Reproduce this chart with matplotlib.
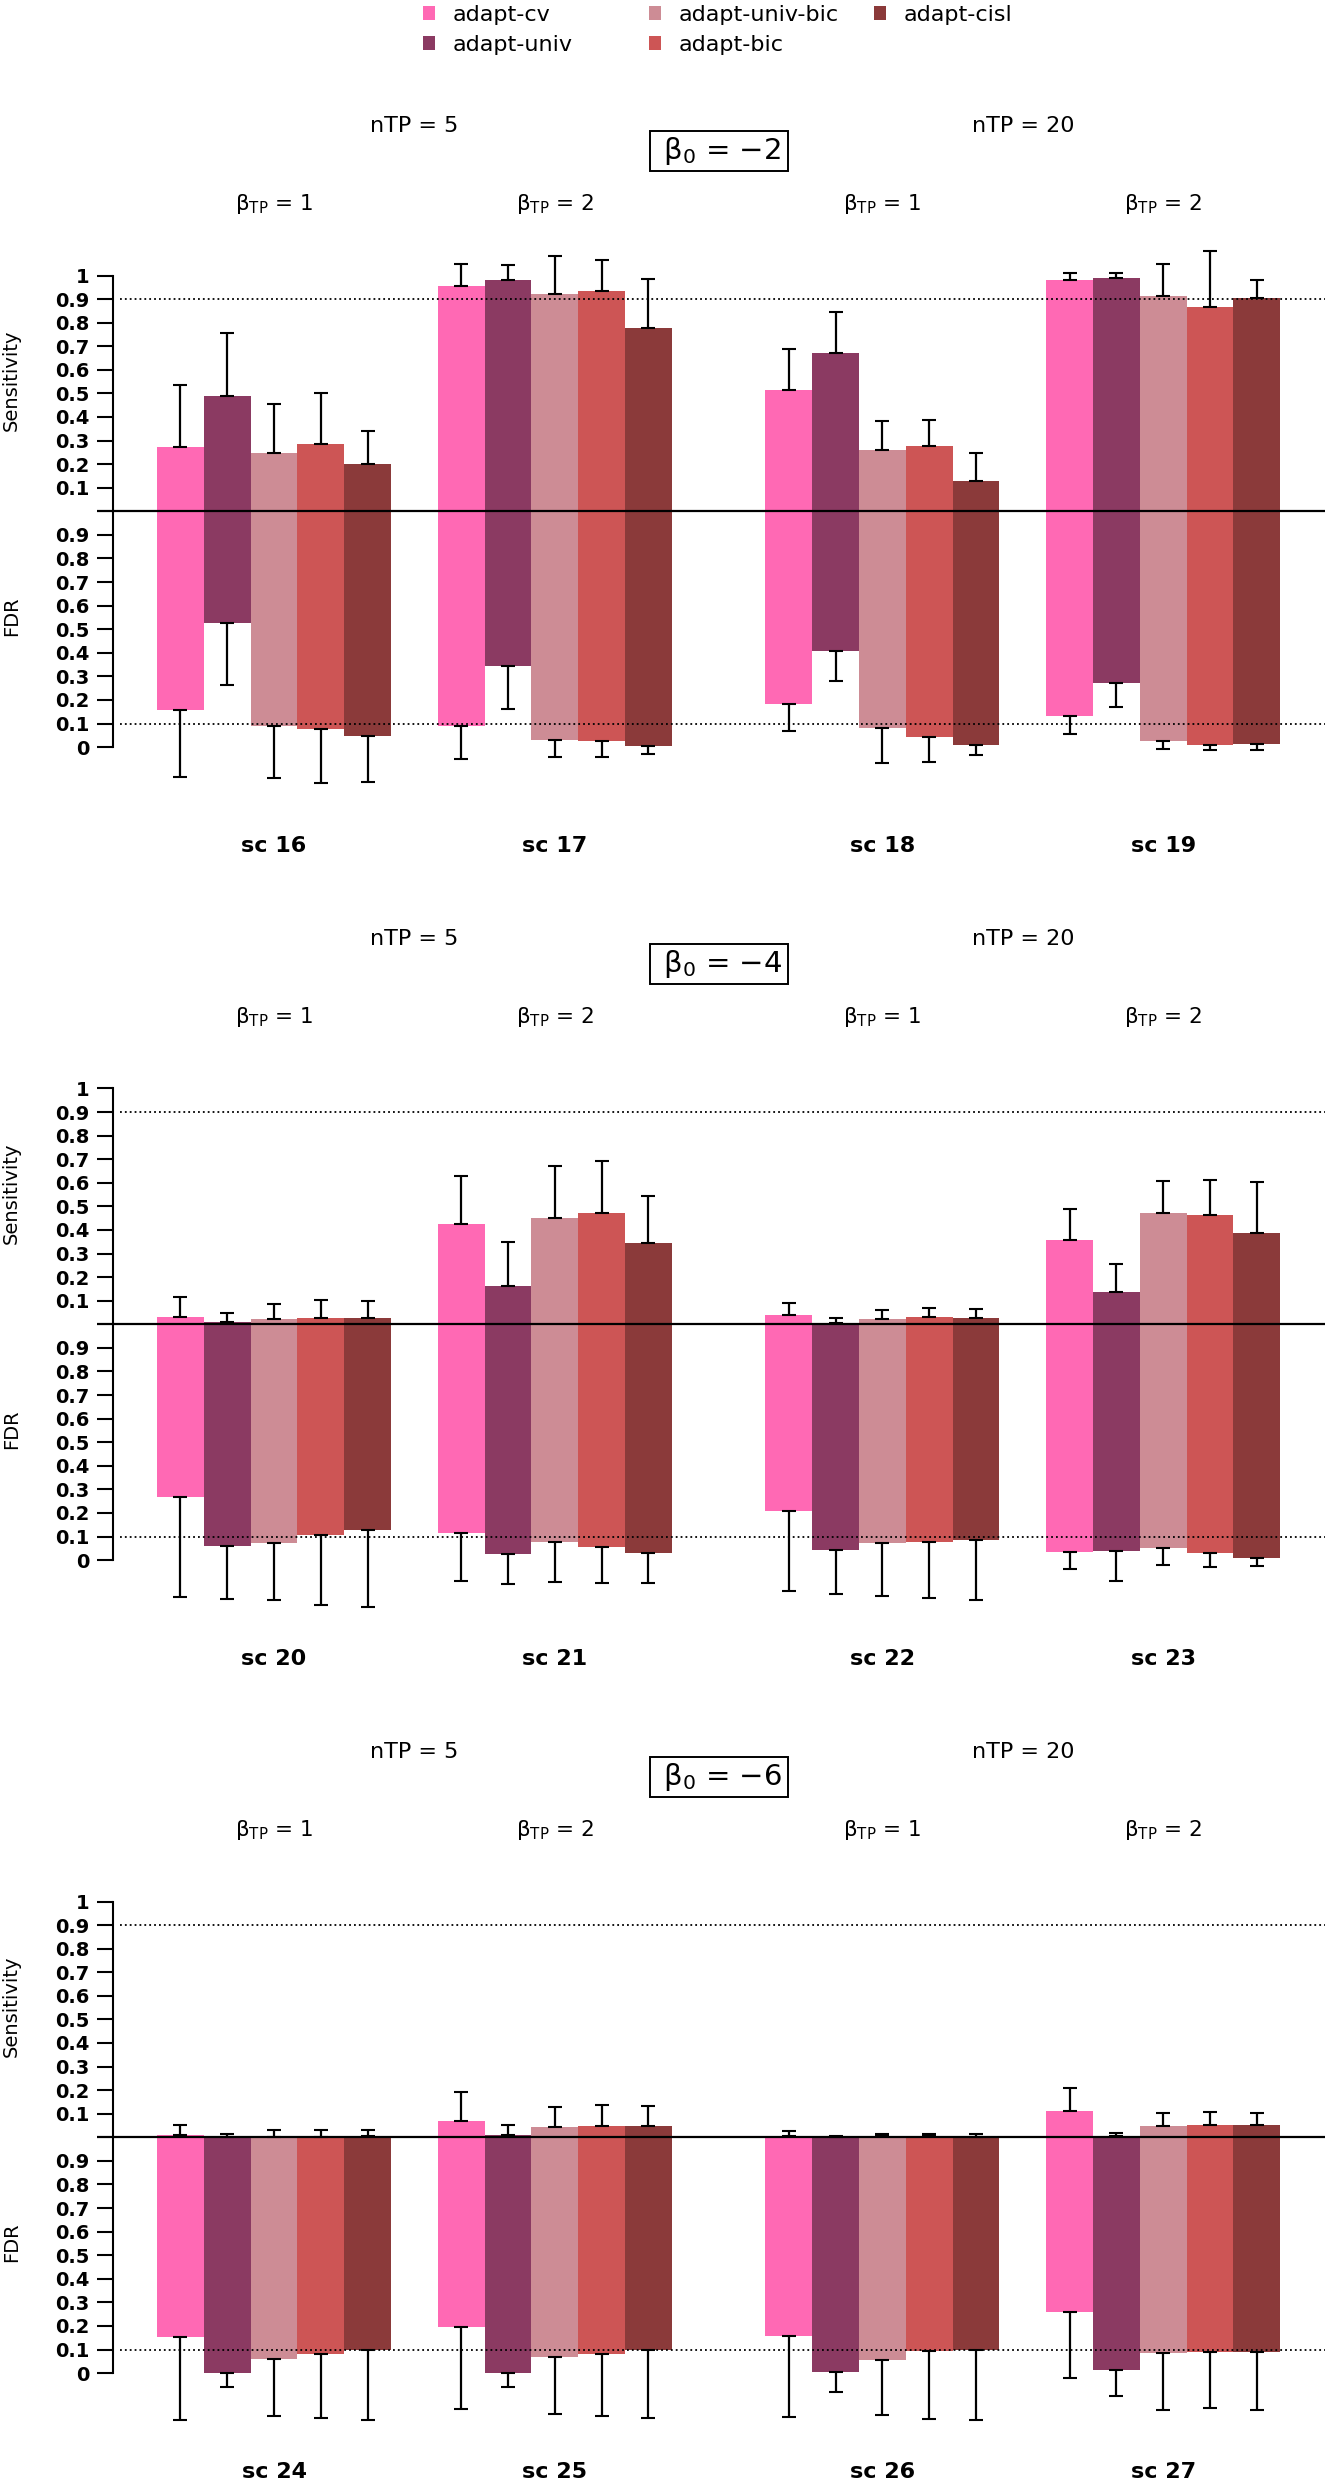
import matplotlib
matplotlib.use("Agg")
import matplotlib.pyplot as plt
from matplotlib.patches import Patch

plt.rcParams["font.family"] = ["DejaVu Sans"]
plt.rcParams["mathtext.default"] = "regular"

# ---------------- data ----------------
methods = ["adapt-cv", "adapt-univ", "adapt-univ-bic", "adapt-bic", "adapt-cisl"]
colors = ["#FF69B4", "#8B3A62", "#CD8C95", "#CD5555", "#8B3A3A"]

beta0_labels = [r"$\beta_0$ = −2", r"$\beta_0$ = −4", r"$\beta_0$ = −6"]
ntp_labels = ["nTP = 5", "nTP = 20"]
btp_labels = [r"$\beta_{TP}$ = 1", r"$\beta_{TP}$ = 2", r"$\beta_{TP}$ = 1", r"$\beta_{TP}$ = 2"]
scenario_labels = [["sc 16", "sc 17", "sc 18", "sc 19"],
                   ["sc 20", "sc 21", "sc 22", "sc 23"],
                   ["sc 24", "sc 25", "sc 26", "sc 27"]]

# beta0 = -2 (sc 16-19): rows = scenarios, cols = methods
sens_b0m2 = [[0.274, 0.490, 0.248, 0.285, 0.201],
             [0.954, 0.983, 0.920, 0.933, 0.777],
             [0.513, 0.673, 0.260, 0.279, 0.130],
             [0.981, 0.991, 0.912, 0.868, 0.903]]
sens_sd_b0m2 = [[0.260, 0.266, 0.208, 0.215, 0.141],
                [0.094, 0.060, 0.163, 0.132, 0.208],
                [0.176, 0.172, 0.121, 0.110, 0.118],
                [0.030, 0.018, 0.138, 0.237, 0.078]]
fdr_b0m2 = [[0.156, 0.527, 0.088, 0.076, 0.047],
            [0.088, 0.346, 0.031, 0.026, 0.005],
            [0.183, 0.407, 0.079, 0.042, 0.008],
            [0.130, 0.271, 0.026, 0.011, 0.015]]
fdr_sd_b0m2 = [[0.281, 0.263, 0.219, 0.227, 0.193],
               [0.138, 0.184, 0.075, 0.070, 0.034],
               [0.115, 0.128, 0.147, 0.105, 0.042],
               [0.076, 0.099, 0.036, 0.022, 0.028]]

# beta0 = -4 (sc 20-23)
sens_b0m4 = [[0.032, 0.009, 0.021, 0.027, 0.027],
             [0.424, 0.161, 0.451, 0.473, 0.343],
             [0.038, 0.006, 0.021, 0.030, 0.028],
             [0.358, 0.136, 0.470, 0.462, 0.386]]
sens_sd_b0m4 = [[0.082, 0.040, 0.064, 0.075, 0.073],
                [0.207, 0.186, 0.221, 0.220, 0.199],
                [0.053, 0.019, 0.038, 0.040, 0.036],
                [0.129, 0.120, 0.136, 0.148, 0.216]]
fdr_b0m4 = [[0.267, 0.059, 0.074, 0.106, 0.129],
            [0.113, 0.025, 0.075, 0.054, 0.028],
            [0.207, 0.044, 0.071, 0.076, 0.084],
            [0.033, 0.037, 0.051, 0.028, 0.009]]
fdr_sd_b0m4 = [[0.425, 0.226, 0.244, 0.298, 0.330],
               [0.202, 0.125, 0.168, 0.150, 0.125],
               [0.338, 0.187, 0.225, 0.236, 0.254],
               [0.070, 0.126, 0.072, 0.056, 0.032]]

# beta0 = -6 (sc 24-27)
sens_b0m6 = [[0.008, 0.001, 0.002, 0.002, 0.004],
             [0.068, 0.008, 0.042, 0.046, 0.046],
             [0.006, 0.002, 0.004, 0.004, 0.002],
             [0.110, 0.004, 0.049, 0.053, 0.051]]
sens_sd_b0m6 = [[0.043, 0.014, 0.028, 0.028, 0.028],
                [0.124, 0.045, 0.087, 0.091, 0.087],
                [0.021, 0.004, 0.009, 0.011, 0.013],
                [0.097, 0.015, 0.056, 0.055, 0.050]]
fdr_b0m6 = [[0.152, 0.002, 0.061, 0.080, 0.097],
            [0.194, 0.002, 0.068, 0.082, 0.097],
            [0.158, 0.006, 0.057, 0.093, 0.097],
            [0.257, 0.013, 0.086, 0.089, 0.091]]
fdr_sd_b0m6 = [[0.350, 0.063, 0.242, 0.272, 0.295],
               [0.346, 0.063, 0.243, 0.266, 0.289],
               [0.344, 0.088, 0.234, 0.287, 0.295],
               [0.276, 0.108, 0.242, 0.237, 0.247]]

panels = [(sens_b0m2, sens_sd_b0m2, fdr_b0m2, fdr_sd_b0m2),
          (sens_b0m4, sens_sd_b0m4, fdr_b0m4, fdr_sd_b0m4),
          (sens_b0m6, sens_sd_b0m6, fdr_b0m6, fdr_sd_b0m6)]

sens_thr = 0.9
fdr_thr = 0.1

# ---------------- layout (pixels) ----------------
W, H = 1325, 2480
bar_px = 46.8          # one bar width in pixels
x0_px = 157.0          # left edge of the first bar
spine_px = 112.5
panel_top_px = [275.5, 1088.5, 1901.5]
unit_px = 235.8        # pixels per unit on the y axis
group_start = [0, 6, 13, 19]

fig = plt.figure(figsize=(W / 100, H / 100), dpi=100)
fig.patch.set_facecolor("white")

xlo = -x0_px / bar_px
xhi = (W - x0_px) / bar_px
spine_x = (spine_px - x0_px) / bar_px
tick_len_px = 16

ytick_pos = [i / 10 for i in range(10)] + [1 + i / 10 for i in range(1, 11)]
ytick_lab = ["0"] + [f"0.{i}" for i in range(1, 10)] + [f"0.{i}" for i in range(1, 10)] + ["1"]

for p, (sens, sens_sd, fdr, fdr_sd) in enumerate(panels):
    top = panel_top_px[p]
    bot = top + 2 * unit_px
    ax = fig.add_axes([0, 1 - bot / H, 1, 2 * unit_px / H])
    ax.set_xlim(xlo, xhi)
    ax.set_ylim(0, 2)
    ax.patch.set_visible(False)
    for s in ["top", "right", "bottom"]:
        ax.spines[s].set_visible(False)
    ax.spines["left"].set_position(("data", spine_x))
    ax.spines["left"].set_bounds(0, 2)
    ax.spines["left"].set_linewidth(1.5)
    ax.set_xticks([])
    ax.set_yticks(ytick_pos, ytick_lab, fontsize=14, fontweight="bold")
    ax.tick_params(axis="y", length=tick_len_px * 0.72, width=1.5, pad=5.0)

    for g in range(4):
        for m in range(5):
            xl = group_start[g] + m
            ax.bar(xl, sens[g][m], bottom=1, width=1, align="edge",
                   color=colors[m], edgecolor="none", zorder=2, clip_on=False)
            ax.bar(xl, 1 - fdr[g][m], bottom=fdr[g][m], width=1, align="edge",
                   color=colors[m], edgecolor="none", zorder=2, clip_on=False)
            eb1 = ax.errorbar(xl + 0.5, 1 + sens[g][m], yerr=[[0], [sens_sd[g][m]]],
                              fmt="none", ecolor="black", elinewidth=1.6,
                              capsize=4.7, capthick=1.5, zorder=5)
            eb2 = ax.errorbar(xl + 0.5, fdr[g][m], yerr=[[fdr_sd[g][m]], [0]],
                              fmt="none", ecolor="black", elinewidth=1.6,
                              capsize=4.7, capthick=1.5, zorder=5)
            for eb in (eb1, eb2):
                for art in eb.get_children():
                    art.set_clip_on(False)
        ax.text(group_start[g] + 2.5, -0.419, scenario_labels[p][g],
                ha="center", va="center", fontsize=16, fontweight="bold")
        ax.text(group_start[g] + 2.5, 2.303, btp_labels[g],
                ha="center", va="center", fontsize=15.5)

    # threshold lines and baseline
    dot_start = (120 - x0_px) / bar_px
    ax.plot([dot_start, xhi], [1 + sens_thr] * 2, color="black", lw=1.3,
            linestyle=(0, (1, 1.7)), zorder=4, clip_on=False)
    ax.plot([dot_start, xhi], [fdr_thr] * 2, color="black", lw=1.3,
            linestyle=(0, (1, 1.7)), zorder=4, clip_on=False)
    ax.plot([spine_x - tick_len_px / bar_px, xhi], [1, 1], color="black",
            lw=1.6, zorder=4, clip_on=False, solid_capstyle="butt")

    # axis titles
    ylab_x = (11.5 - x0_px) / bar_px
    ax.text(ylab_x, 1.555, "Sensitivity", rotation=90, ha="center", va="center", fontsize=14)
    ax.text(ylab_x, 0.555, "FDR", rotation=90, ha="center", va="center", fontsize=14)

    # headings
    ax.text((group_start[0] + group_start[1]) / 2 + 2.5, 2.635, ntp_labels[0],
            ha="center", va="center", fontsize=16)
    ax.text((group_start[2] + group_start[3]) / 2 + 2.5, 2.635, ntp_labels[1],
            ha="center", va="center", fontsize=16)
    ax.text((group_start[0] + group_start[3]) / 2 + 2.5, 2.528, " " + beta0_labels[p] + " ",
            ha="center", va="center", fontsize=21,
            bbox=dict(boxstyle="square,pad=0.14", facecolor="white",
                      edgecolor="black", linewidth=1.4))

# legend: three columns
legend_cols = [[0, 1], [2, 3], [4]]
legend_x_px = [423, 649, 874]
for c, idx in enumerate(legend_cols):
    handles = [Patch(facecolor=colors[i], edgecolor="none") for i in idx]
    labels = [methods[i] for i in idx]
    fig.legend(handles, labels, loc="upper left",
               bbox_to_anchor=(legend_x_px[c] / W, 1 - 5 / H),
               frameon=False, fontsize=16, borderpad=0, borderaxespad=0,
               handlelength=0.55, handleheight=0.55, handletextpad=0.77,
               labelspacing=0.45)

fig.savefig("out.png", dpi=100, facecolor="white")
